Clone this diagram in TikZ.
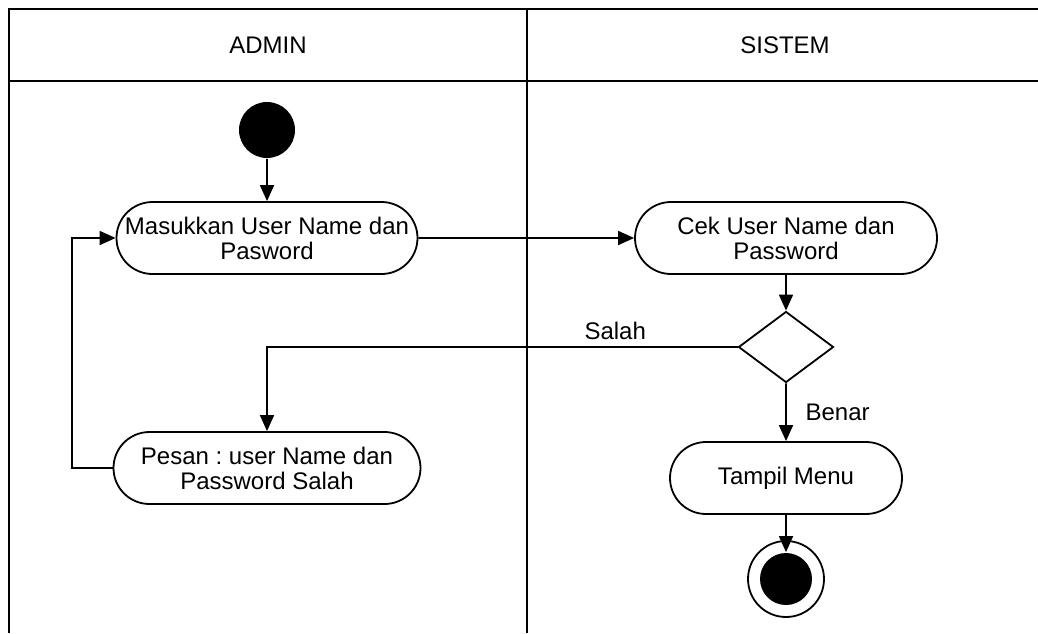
\documentclass[tikz,border=0pt]{standalone}
\usepackage{fontspec}
\setmainfont{Liberation Sans}
\usetikzlibrary{arrows.meta,shapes.geometric,shapes.misc}
\frenchspacing

\begin{document}
\begin{tikzpicture}[x=0.5pt,y=-0.5pt,->,>={Triangle[length=8pt,width=7pt]},line width=0.9pt,
    font=\fontsize{12pt}{12.5pt}\selectfont,
    action/.style={rounded rectangle,draw,align=center,minimum height=36pt,inner xsep=0pt},
    start node/.style={circle,fill,inner sep=0pt,minimum size=28pt},
    end node/.style={circle,draw,inner sep=0pt,minimum size=38pt},
    branch/.style={diamond,draw,inner sep=0pt,minimum width=47.5pt,minimum height=35.5pt}]
    \useasboundingbox (0,0) rectangle (1038,633);
    % lanes
    \draw[-] (9,633) -- (9,9) -- (1038,9);
    \draw[-] (9,81) -- (1038,81);
    \draw[-] (527,9) -- (527,633);
    \node (admin) at (268,45) {ADMIN};
    \node (sistem) at (785,45) {SISTEM};
    % nodes
    \node[start node] (start) at (267,130) {};
    \node[action,minimum width=150.5pt] (masuk) [below of=start,node distance=54pt] {Masukkan User Name dan\\Pasword};
    \node[action,minimum width=151pt] (cek) [right of=masuk,node distance=259.5pt] {Cek User Name dan\\Password};
    \node[branch] (cabang) [below of=cek,node distance=54.5pt] {};
    \node[action,minimum width=153.5pt] (pesan) [below of=masuk,node distance=115pt] {Pesan : user Name dan\\Password Salah};
    \node[action,minimum width=116pt] (tampil) [below of=cabang,node distance=65.5pt] {Tampil Menu};
    \node[end node] (selesai) [below of=tampil,node distance=50.5pt] {};
    \node[start node,minimum size=26pt] (selesaiin) at (selesai) {};
    % edges
    \draw (start) -- (masuk);
    \draw (masuk) -- (cek);
    \draw (cek) -- (cabang);
    \draw (cabang.west) -| node[pos=0.13,above] {Salah} (pesan.north);
    \draw (cabang) -- node[right=6pt] {Benar} (tampil);
    \draw (tampil) -- (selesaiin);
    \draw (pesan.west) -- ++(-20.5pt,0) |- (masuk.west);
\end{tikzpicture}
\end{document}
